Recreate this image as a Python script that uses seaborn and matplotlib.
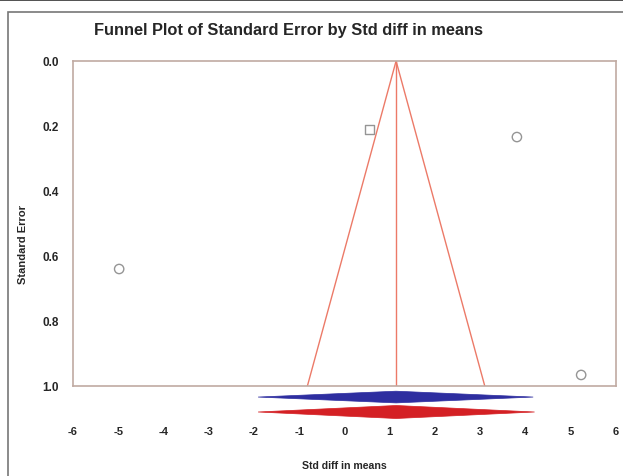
import matplotlib
matplotlib.use("Agg")
import matplotlib.pyplot as plt
import seaborn as sns
import numpy as np
import pandas as pd
from matplotlib.patches import Polygon, Rectangle

# ---- data ----
study_effect = [0.56, 3.81, -4.98, 5.23]
study_se = [0.21, 0.234, 0.64, 0.966]
study_kind = ["square", "circle", "circle", "circle"]
pooled_mean = 1.14
diamond_observed = [-1.91, 1.14, 4.17]   # lower, point, upper
diamond_adjusted = [-1.91, 1.14, 4.20]
x_ticks = [-6, -5, -4, -3, -2, -1, 0, 1, 2, 3, 4, 5, 6]
y_ticks = [0.0, 0.2, 0.4, 0.6, 0.8, 1.0]

sns.set_theme(style="white")
plt.rcParams["font.family"] = ["Liberation Sans", "DejaVu Sans"]

fig = plt.figure(figsize=(6.23, 4.77), dpi=100)
ax = fig.add_axes([73/623, 1-387/477, 543/623, 325/477])

df = pd.DataFrame({"effect": study_effect, "se": study_se, "kind": study_kind})
sns.scatterplot(data=df, x="effect", y="se", style="kind",
                markers={"square": "s", "circle": "o"},
                facecolor="none", edgecolor="#959595", linewidth=1.0,
                s=45, legend=False, ax=ax, zorder=3)

funnel_color = "#ec7a68"
se_line = np.array([0.0, 1.0])
sns.lineplot(x=pooled_mean - 1.96 * se_line, y=se_line, color=funnel_color, lw=1.0, ax=ax, sort=False)
sns.lineplot(x=pooled_mean + 1.96 * se_line, y=se_line, color=funnel_color, lw=1.0, ax=ax, sort=False)
ax.plot([pooled_mean, pooled_mean], [0.0, 1.0], color=funnel_color, lw=1.0)

ax.set_xlim(-6, 6)
ax.set_ylim(1.0, 0.0)

# diamonds below the axis
def diamond(vals, yc, h, color):
    lo, mid, hi = vals
    poly = Polygon([[lo, yc], [mid, yc - h], [hi, yc], [mid, yc + h]],
                   closed=True, facecolor=color, edgecolor=color, linewidth=0.5,
                   clip_on=False, zorder=4)
    ax.add_patch(poly)

diamond(diamond_observed, 1.034, 0.018, "#2e2ea0")
diamond(diamond_adjusted, 1.08, 0.02, "#d42024")

ax.set_xticks(x_ticks)
ax.set_xticklabels([str(t) for t in x_ticks], fontsize=8, fontweight="bold")
ax.set_yticks(y_ticks)
ax.set_yticklabels([f"{t:.1f}" for t in y_ticks], fontsize=8.5, fontweight="bold")
ax.tick_params(axis="x", which="both", length=2, pad=28, direction="inout", color="#b09890")
ax.tick_params(axis="y", length=0, pad=10)

for s in ax.spines.values():
    s.set_color("#c0aaa2")
    s.set_linewidth(1.2)

ax.set_xlabel("Std diff in means", fontsize=7.6, fontweight="bold", labelpad=17)
ax.set_ylabel("Standard Error", fontsize=8, fontweight="bold")
ax.yaxis.set_label_coords(-0.082, 0.44)
fig.text(289/623, 1 - 30/477, "Funnel Plot of Standard Error by Std diff in means",
         ha="center", va="center", fontsize=11.8, fontweight="bold")

# outer frame decoration
fig.patches.append(Rectangle((0, 1 - 2/477), 1, 2/477, transform=fig.transFigure,
                             facecolor="#555555", edgecolor="none"))
fig.patches.append(Rectangle((8/623, -0.1), 1.2, 1 - 13/477 + 0.1, transform=fig.transFigure,
                             facecolor="none", edgecolor="#777777", linewidth=1.2))

fig.savefig("out.png", dpi=100)
